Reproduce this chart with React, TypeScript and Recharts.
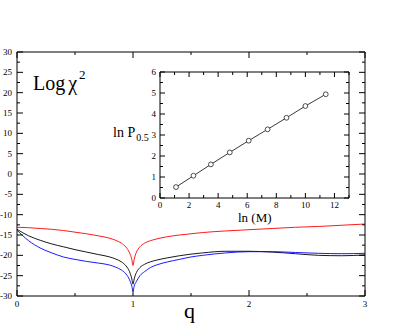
import React from 'react';
import { LineChart, Line, XAxis, YAxis, ReferenceArea } from 'recharts';

// main plot: q vs log chi^2
const qValues = [0, 0.1, 0.2, 0.3, 0.4, 0.5, 0.6, 0.7, 0.8, 0.85, 0.9, 0.94, 0.97, 0.99, 1.0, 1.01, 1.03, 1.06, 1.1, 1.15, 1.2, 1.3, 1.4, 1.5, 1.6, 1.8, 2.0, 2.2, 2.4, 2.6, 2.8, 3.0];
const redValues = [-13.1, -13.2, -13.4, -13.6, -13.9, -14.3, -14.7, -15.2, -15.8, -16.3, -17.0, -18.0, -19.4, -21.0, -22.5, -21.0, -19.2, -17.9, -17.0, -16.4, -16.0, -15.4, -15.0, -14.7, -14.4, -14.0, -13.7, -13.4, -13.1, -12.9, -12.6, -12.3];
const blackValues = [-13.6, -15.2, -16.3, -17.2, -17.9, -18.6, -19.2, -19.8, -20.4, -20.9, -21.6, -22.6, -24.0, -25.8, -27.1, -25.8, -24.2, -23.0, -22.2, -21.6, -21.2, -20.6, -20.1, -19.7, -19.4, -19.0, -19.0, -19.2, -19.6, -20.0, -20.1, -19.9];
const blueValues = [-13.8, -16.4, -18.2, -19.4, -20.4, -21.0, -21.5, -21.9, -22.4, -22.9, -23.6, -24.6, -26.0, -27.6, -28.8, -27.6, -26.4, -25.0, -24.0, -23.0, -22.4, -21.6, -21.0, -20.4, -20.0, -19.4, -19.1, -19.1, -19.3, -19.5, -19.6, -19.5];
const mainXTicks = [0, 0.5, 1, 1.5, 2, 2.5, 3];
const mainYTicks = [-30, -27.5, -25, -22.5, -20, -17.5, -15, -12.5, -10, -7.5, -5, -2.5, 0, 2.5, 5, 7.5, 10, 12.5, 15, 17.5, 20, 22.5, 25, 27.5, 30];

// inset: ln M vs ln P0.5
const lnM = [1.1, 2.3, 3.5, 4.8, 6.1, 7.4, 8.7, 10.0, 11.4];
const lnP = [0.52, 1.06, 1.6, 2.17, 2.73, 3.27, 3.82, 4.38, 4.94];
const insetXTicks = [0, 1, 2, 3, 4, 5, 6, 7, 8, 9, 10, 11, 12, 13];
const insetYTicks = [0, 0.5, 1, 1.5, 2, 2.5, 3, 3.5, 4, 4.5, 5, 5.5, 6];

const mainData = qValues.map((q, i) => ({ q, red: redValues[i], black: blackValues[i], blue: blueValues[i] }));
const insetData = lnM.map((m, i) => ({ m, p: lnP[i] }));

const FONT = '"Liberation Serif", "DejaVu Serif", serif';
const tickText: React.CSSProperties = { fontFamily: FONT, fontSize: 9 };

// plot box edges (px inside each chart)
const MAIN = { left: 17, right: 365, top: 52, bottom: 296 };
const INS = { left: 20, right: 209, top: 10, bottom: 136 };

const MainYTick = (props: any) => {
  const { y, payload } = props;
  const v = payload.value;
  const major = v % 5 === 0;
  const len = major ? 6 : 3;
  return (
    <g>
      <line x1={MAIN.left} x2={MAIN.left + len} y1={y} y2={y} stroke="#000" />
      <line x1={MAIN.right - len} x2={MAIN.right} y1={y} y2={y} stroke="#000" />
      {major && (
        <text x={MAIN.left - 5} y={y} dy={3} textAnchor="end" style={tickText} fill="#000">
          {v}
        </text>
      )}
    </g>
  );
};

const MainXTick = (props: any) => {
  const { x, payload } = props;
  const v = payload.value;
  const major = Number.isInteger(v);
  const len = major ? 6 : 3;
  return (
    <g>
      <line x1={x} x2={x} y1={MAIN.bottom} y2={MAIN.bottom - len} stroke="#000" />
      <line x1={x} x2={x} y1={MAIN.top} y2={MAIN.top + len} stroke="#000" />
      {major && (
        <text x={x} y={MAIN.bottom + 11} textAnchor="middle" style={tickText} fill="#000">
          {v}
        </text>
      )}
    </g>
  );
};

const InsetYTick = (props: any) => {
  const { y, payload } = props;
  const v = payload.value;
  const major = Number.isInteger(v);
  const len = major ? 5 : 3;
  return (
    <g>
      <line x1={INS.left} x2={INS.left + len} y1={y} y2={y} stroke="#000" />
      <line x1={INS.right - len} x2={INS.right} y1={y} y2={y} stroke="#000" />
      {major && (
        <text x={INS.left - 4} y={y} dy={3} textAnchor="end" style={tickText} fill="#000">
          {v}
        </text>
      )}
    </g>
  );
};

const InsetXTick = (props: any) => {
  const { x, payload } = props;
  const v = payload.value;
  const major = v % 2 === 0;
  const len = major ? 5 : 3;
  return (
    <g>
      <line x1={x} x2={x} y1={INS.bottom} y2={INS.bottom - len} stroke="#000" />
      <line x1={x} x2={x} y1={INS.top} y2={INS.top + len} stroke="#000" />
      {major && (
        <text x={x} y={INS.bottom + 10} textAnchor="middle" style={tickText} fill="#000">
          {v}
        </text>
      )}
    </g>
  );
};

const label = (left: number, top: number, size: number): React.CSSProperties => ({
  position: 'absolute',
  left,
  top,
  fontSize: size,
  lineHeight: `${size}px`,
  fontFamily: FONT,
  color: '#000',
  whiteSpace: 'nowrap',
});

export default function App() {
  return (
    <div style={{ position: 'absolute', left: 0, top: 0, width: 415, height: 324, background: '#fff', overflow: 'hidden' }}>
      <LineChart width={415} height={324} data={mainData} margin={{ top: MAIN.top, right: 415 - MAIN.right, bottom: 0, left: 0 }}>
        <XAxis
          type="number"
          dataKey="q"
          domain={[0, 3]}
          ticks={mainXTicks}
          interval={0}
          tick={<MainXTick />}
          tickLine={false}
          axisLine={false}
          height={324 - MAIN.bottom}
        />
        <YAxis
          type="number"
          domain={[-30, 30]}
          ticks={mainYTicks}
          interval={0}
          tick={<MainYTick />}
          tickLine={false}
          axisLine={false}
          width={MAIN.left}
        />
        <ReferenceArea x1={0} x2={3} y1={-30} y2={30} fill="none" stroke="#000" strokeWidth={1} />
        <Line type="monotone" dataKey="red" stroke="#ff0000" strokeWidth={0.9} dot={false} isAnimationActive={false} />
        <Line type="monotone" dataKey="black" stroke="#000000" strokeWidth={0.9} dot={false} isAnimationActive={false} />
        <Line type="monotone" dataKey="blue" stroke="#0000ff" strokeWidth={0.9} dot={false} isAnimationActive={false} />
      </LineChart>

      <div style={{ position: 'absolute', left: 140, top: 62 }}>
        <LineChart width={220} height={150} data={insetData} margin={{ top: INS.top, right: 220 - INS.right, bottom: 0, left: 0 }}>
          <XAxis
            type="number"
            dataKey="m"
            domain={[0, 13]}
            ticks={insetXTicks}
            interval={0}
            tick={<InsetXTick />}
            tickLine={false}
            axisLine={false}
            height={150 - INS.bottom}
          />
          <YAxis
            type="number"
            domain={[0, 6]}
            ticks={insetYTicks}
            interval={0}
            tick={<InsetYTick />}
            tickLine={false}
            axisLine={false}
            width={INS.left}
          />
          <ReferenceArea x1={0} x2={13} y1={0} y2={6} fill="#fff" fillOpacity={0} stroke="#000" strokeWidth={1} />
          <Line
            type="linear"
            dataKey="p"
            stroke="#222"
            strokeWidth={0.9}
            dot={{ r: 2.4, fill: '#fff', stroke: '#222', strokeWidth: 0.8 }}
            isAnimationActive={false}
          />
        </LineChart>
      </div>

      <div style={label(33, 73, 20)}>
        Log<span style={{ marginLeft: 3 }}>χ</span>
        <span style={{ fontSize: 13, position: 'relative', top: -11, left: 2 }}>2</span>
      </div>
      <div style={label(184, 300, 22)}>q</div>
      <div style={label(113, 126, 14)}>
        ln P<span style={{ fontSize: 10, position: 'relative', top: 4, left: 1 }}>0.5</span>
      </div>
      <div style={label(238, 211, 13)}>ln (M)</div>
    </div>
  );
}
